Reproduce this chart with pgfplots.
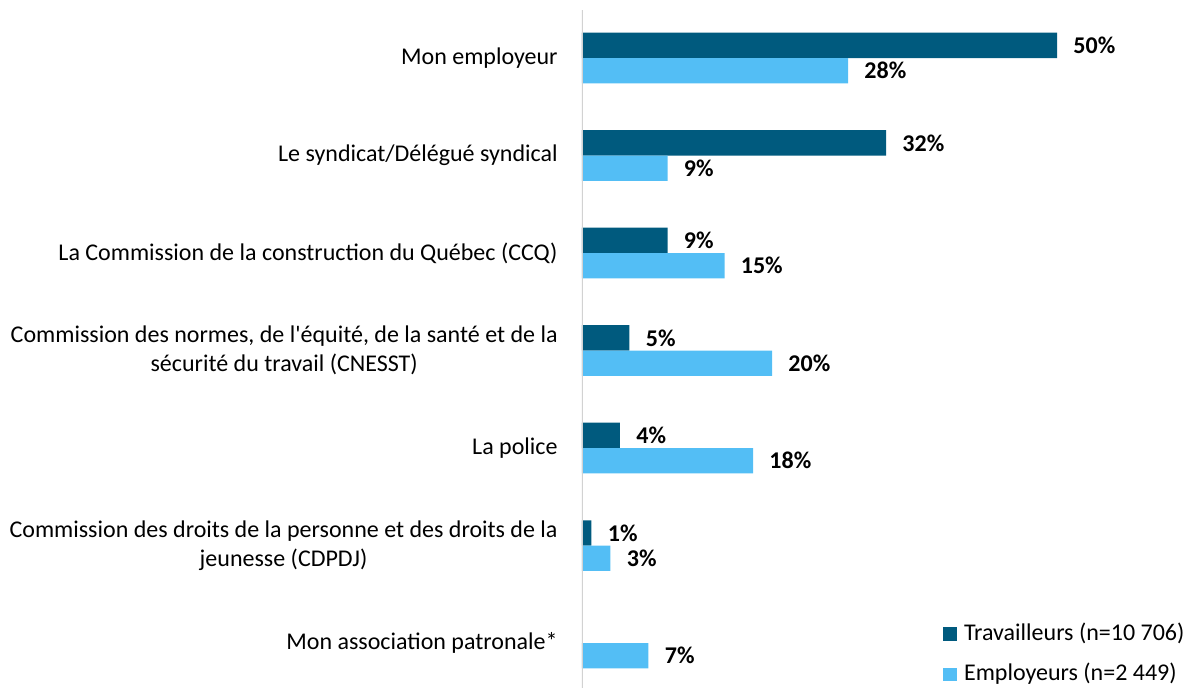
\documentclass[border=0pt]{standalone}
\usepackage{pgfplots}
\pgfplotsset{compat=1.18}
\usepackage{fontspec}
\setmainfont{Carlito}
\definecolor{travail}{RGB}{0,90,126}
\definecolor{employ}{RGB}{83,190,245}
\begin{document}
\fontsize{12}{14.5}\selectfont
\begin{tikzpicture}
\begin{axis}[
  xbar, width=305pt, height=344pt, scale only axis,
  xmin=0, xmax=64.2, ymin=-0.595, ymax=6.46, y dir=reverse,
  hide x axis,
  axis y line*=left, y axis line style={draw=none},
  major tick length=0pt,
  /pgf/number format/assume math mode=true,
  ytick={0,...,6},
  yticklabels={Mon employeur, Le syndicat/Délégué syndical,
    La Commission de la construction du Québec (CCQ),
    {Commission des normes, de l\textquotesingle équité, de la santé et de la\\sécurité du travail (CNESST)},
    La police,
    {Commission des droits de la personne et des droits de la\\jeunesse (CDPDJ)},
    Mon association patronale*},
  yticklabel style={align=center, inner sep=0pt, xshift=-12pt},
  bar width=0.26,
  nodes near coords={\pgfmathprintnumber{\pgfplotspointmeta}\%},
  nodes near coords style={font=\bfseries, anchor=west, inner sep=0pt, xshift=8pt, text=black},
  legend style={at={(axis cs:38.0,5.785)}, anchor=north west, draw=none, fill=none,
    inner sep=0pt, row sep=9pt, nodes={inner sep=0pt, text height=8.8pt, text depth=2.5pt}},
  legend cell align=left,
  legend image code/.code={\fill[#1] (0pt,-3.4pt) rectangle (6.8pt,3.4pt);},
  /tikz/every odd column/.append style={column sep=3.5pt},
]
\addplot[draw=none, fill=travail, bar shift=-0.13] coordinates {
(50,0) (32,1) (9,2) (5,3) (4,4) (1,5)};
\addlegendentry{Travailleurs (n=10 706)}
\addplot[draw=none, fill=employ, bar shift=0.13] coordinates {
(28,0) (9,1) (15,2) (20,3) (18,4) (3,5) (7,6)};
\addlegendentry{Employeurs (n=2 449)}
\draw[gray!35, line width=0.8pt] (axis cs:0,-0.49) -- (axis cs:0,6.46);
\coordinate (bl) at (rel axis cs:0,0);
\coordinate (tr) at (rel axis cs:1,1);
\end{axis}
\pgfresetboundingbox
\path[use as bounding box] ([xshift=-291pt]bl) rectangle (tr);
\end{tikzpicture}
\end{document}
